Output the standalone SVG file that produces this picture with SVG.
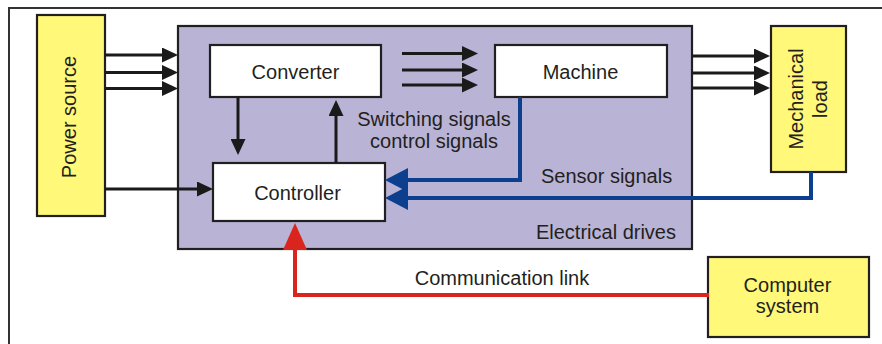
<svg xmlns="http://www.w3.org/2000/svg" width="882" height="344" viewBox="0 0 882 344">
<style>
.box{stroke:#231f20;stroke-width:2.2}
.y{fill:#fff878}
.w{fill:#ffffff}
.t{font-family:"Liberation Sans",Arial,sans-serif;font-size:20px;fill:#231f20}
.m{text-anchor:middle}
.k{fill:none;stroke:#1a1a1a;stroke-width:3}
.b{fill:none;stroke:#0c3f8e;stroke-width:4}
.r{fill:none;stroke:#da251f;stroke-width:4}
</style>
<defs>
<marker id="ak" markerUnits="userSpaceOnUse" markerWidth="16" markerHeight="15" refX="11" refY="7.5" orient="auto"><path d="M0,0 L16,7.5 L0,15 z" fill="#1a1a1a"/></marker>
<marker id="ab" markerUnits="userSpaceOnUse" markerWidth="23" markerHeight="24" refX="18" refY="12" orient="auto"><path d="M0,0 L23,12 L0,24 z" fill="#0c3f8e"/></marker>
<marker id="ar" markerUnits="userSpaceOnUse" markerWidth="27" markerHeight="24" refX="22" refY="12" orient="auto"><path d="M0,0 L27,12 L0,24 z" fill="#da251f"/></marker>
</defs>
<rect width="882" height="344" fill="#ffffff"/>
<path d="M9,344 V8 H882" fill="none" stroke="#333" stroke-width="2"/>

<g id="drives">
<rect class="box" x="178" y="26" width="514" height="223" fill="#b9b3d6"/>
<text class="t" x="676" y="239" text-anchor="end">Electrical drives</text>
</g>
<g id="power-source">
<rect class="box y" x="37" y="15" width="68" height="201"/>
<text class="t m" transform="translate(76,117) rotate(-90)">Power source</text>
</g>
<g id="converter">
<rect class="box w" x="210" y="45" width="171" height="52"/>
<text class="t m" x="295.5" y="79">Converter</text>
</g>
<g id="machine">
<rect class="box w" x="495" y="45" width="172" height="52"/>
<text class="t m" x="580.5" y="79">Machine</text>
</g>
<g id="controller">
<rect class="box w" x="213" y="163" width="172" height="58"/>
<text class="t m" x="297.5" y="200">Controller</text>
</g>
<g id="mechanical-load">
<rect class="box y" x="771" y="26" width="75" height="146"/>
<text class="t m" transform="translate(803,99) rotate(-90)">Mechanical</text>
<text class="t m" transform="translate(827,99) rotate(-90)">load</text>
</g>
<g id="computer-system">
<rect class="box y" x="708" y="257" width="161" height="80"/>
<text class="t m" x="787.5" y="292">Computer</text>
<text class="t m" x="787.5" y="313">system</text>
</g>

<g id="connectors">
<path class="k" d="M105,55 H173" marker-end="url(#ak)"/>
<path class="k" d="M105,72.5 H173" marker-end="url(#ak)"/>
<path class="k" d="M105,88.5 H173" marker-end="url(#ak)"/>
<path class="k" d="M402,53.5 H473" marker-end="url(#ak)"/>
<path class="k" d="M402,70 H473" marker-end="url(#ak)"/>
<path class="k" d="M402,85 H473" marker-end="url(#ak)"/>
<path class="k" d="M692,56 H765" marker-end="url(#ak)"/>
<path class="k" d="M692,73 H765" marker-end="url(#ak)"/>
<path class="k" d="M692,88 H765" marker-end="url(#ak)"/>
<path class="k" d="M105,189 H208" marker-end="url(#ak)"/>
<path class="k" d="M238,97 V150" marker-end="url(#ak)"/>
<path class="k" d="M336,163 V105" marker-end="url(#ak)"/>
<path class="b" d="M520,97 V180 H390" marker-end="url(#ab)"/>
<path class="b" d="M811,172 V198 H390" marker-end="url(#ab)"/>
<path class="r" d="M709,295 H295 V228" marker-end="url(#ar)"/>
<text class="t m" x="434" y="126">Switching signals</text>
<text class="t m" x="434" y="148">control signals</text>
<text class="t" x="541" y="183">Sensor signals</text>
<text class="t m" x="502" y="285">Communication link</text>
</g>
</svg>
